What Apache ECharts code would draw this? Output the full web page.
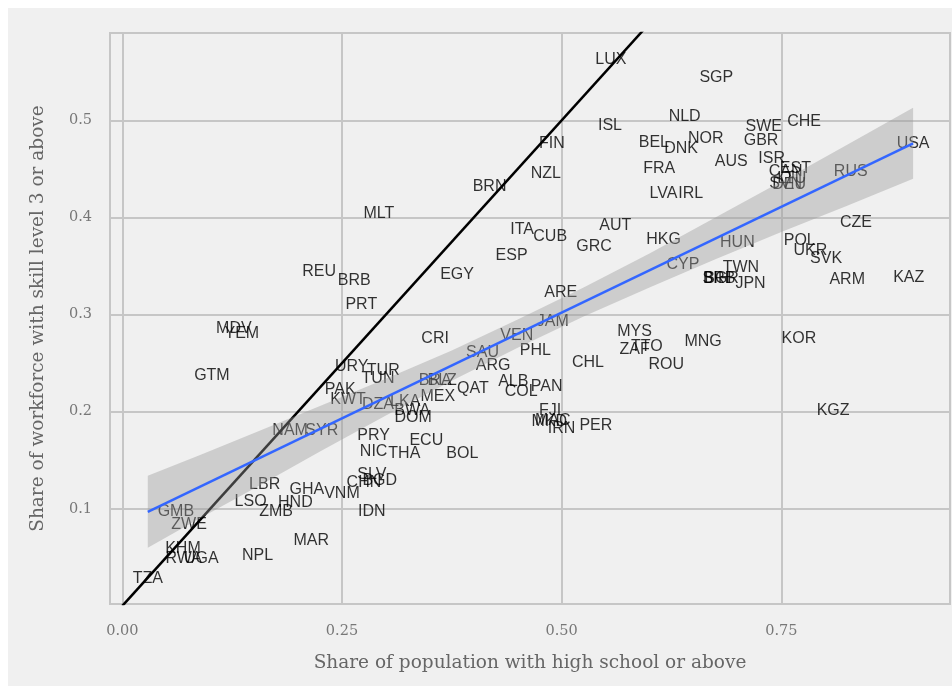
<!DOCTYPE html>
<html>
<head>
<meta charset="utf-8">
<script src="https://cdn.jsdelivr.net/npm/echarts@6/dist/echarts.min.js"></script>
<style>
html,body{margin:0;padding:0;background:#fff;}
#chart{width:952px;height:688px;}
</style>
</head>
<body>
<div id="chart"></div>
<script>
// ---- data ----
const codes = ["LUX","SGP","NLD","ISL","SWE","CHE","BEL","NOR","GBR","DNK","FIN","ISR","AUS","FRA","CAN","EST","NZL","RUS","USA","LTU","SVN","DEU","BRN","LVA","IRL","MLT","CZE","AUT","ITA","CUB","HKG","HUN","POL","GRC","UKR","SVK","ESP","CYP","TWN","REU","BRB","EGY","BIH","BGR","SRB","JPN","ARM","KAZ","ARE","PRT","JAM","MDV","YEM","MYS","CRI","VEN","KOR","MNG","ZAF","TTO","PHL","SAU","CHL","ROU","ARG","URY","TUR","GTM","TUN","BRA","BLZ","ALB","PAN","QAT","PAK","COL","MEX","KWT","DZA","LKA","KGZ","FJI","BWA","MAC","MKD","DOM","IRN","PER","NAM","SYR","PRY","ECU","NIC","THA","BOL","SLV","CHN","BGD","LBR","GHA","VNM","LSO","HND","GMB","ZMB","IDN","ZWE","MAR","KHM","RWA","UGA","NPL","TZA"];
const highSchoolShare = [0.556,0.676,0.640,0.555,0.730,0.776,0.605,0.664,0.727,0.636,0.489,0.739,0.693,0.611,0.755,0.766,0.482,0.829,0.900,0.762,0.755,0.759,0.418,0.616,0.647,0.292,0.835,0.561,0.455,0.487,0.616,0.700,0.771,0.537,0.783,0.801,0.443,0.638,0.704,0.224,0.264,0.381,0.676,0.682,0.679,0.715,0.825,0.895,0.499,0.272,0.490,0.127,0.136,0.583,0.356,0.449,0.770,0.661,0.583,0.597,0.470,0.410,0.530,0.619,0.422,0.261,0.297,0.102,0.291,0.356,0.364,0.445,0.483,0.399,0.248,0.454,0.359,0.257,0.291,0.322,0.809,0.487,0.330,0.490,0.486,0.331,0.500,0.539,0.191,0.227,0.286,0.346,0.286,0.321,0.387,0.284,0.275,0.293,0.162,0.210,0.250,0.146,0.197,0.061,0.175,0.284,0.076,0.215,0.069,0.070,0.090,0.154,0.029];
const skillShare = [0.563,0.544,0.504,0.495,0.494,0.499,0.477,0.481,0.479,0.471,0.476,0.461,0.458,0.450,0.447,0.450,0.445,0.447,0.476,0.440,0.435,0.434,0.432,0.425,0.425,0.404,0.395,0.392,0.388,0.380,0.377,0.374,0.376,0.370,0.366,0.358,0.361,0.351,0.348,0.344,0.335,0.341,0.337,0.337,0.337,0.332,0.336,0.338,0.323,0.310,0.293,0.286,0.280,0.283,0.275,0.278,0.275,0.272,0.264,0.267,0.263,0.261,0.251,0.249,0.248,0.246,0.242,0.237,0.234,0.232,0.232,0.231,0.226,0.224,0.223,0.221,0.216,0.212,0.207,0.210,0.201,0.201,0.201,0.191,0.190,0.194,0.183,0.186,0.181,0.181,0.175,0.170,0.159,0.157,0.157,0.135,0.127,0.129,0.125,0.120,0.116,0.107,0.106,0.097,0.097,0.097,0.084,0.067,0.059,0.049,0.049,0.052,0.028];

// linear fit and its confidence band
const fitX = [0.029, 0.900];
const fitY = [0.0969, 0.4763];
const bandX    = [0.029, 0.090, 0.150, 0.225, 0.300, 0.375, 0.450, 0.525, 0.600, 0.675, 0.750, 0.825, 0.900];
const bandLow  = [0.060, 0.091, 0.121, 0.159, 0.196, 0.232, 0.266, 0.298, 0.328, 0.357, 0.385, 0.412, 0.440];
const bandHigh = [0.134, 0.156, 0.178, 0.206, 0.234, 0.263, 0.295, 0.328, 0.363, 0.400, 0.437, 0.475, 0.513];

// identity line y = x
const identityX = [0, 0.6];

const xTicks = [0, 0.25, 0.5, 0.75];
const yTicks = [0.1, 0.2, 0.3, 0.4, 0.5];

const serif = "'DejaVu Serif', 'Liberation Serif', serif";
const sans = "'Liberation Sans', Arial, sans-serif";
const gridColor = '#c6c6c6';

const chart = echarts.init(document.getElementById('chart'), null, {renderer: 'canvas'});

chart.setOption({
  animation: false,
  backgroundColor: '#ffffff',
  graphic: [{
    type: 'rect', z: -10, silent: true,
    shape: {x: 8, y: 8, width: 944, height: 678},
    style: {fill: '#f0f0f0'}
  }],
  grid: {
    left: 110, right: 2, top: 33, bottom: 84,
    show: true, borderColor: gridColor, borderWidth: 2, backgroundColor: 'transparent'
  },
  xAxis: {
    type: 'value', min: -0.014, max: 0.942,
    name: 'Share of population with high school or above',
    nameLocation: 'middle', nameGap: 50,
    nameTextStyle: {fontFamily: serif, fontSize: 18.5, color: '#666'},
    axisLine: {show: false},
    axisTick: {show: false, customValues: xTicks},
    axisLabel: {customValues: xTicks, formatter: v => Number(v).toFixed(2),
      fontFamily: serif, fontSize: 14.5, color: '#777', margin: 20},
    splitLine: {show: true, lineStyle: {color: gridColor, width: 2}}
  },
  yAxis: {
    type: 'value', min: 0.002, max: 0.59,
    name: 'Share of workforce with skill level 3 or above',
    nameLocation: 'middle', nameGap: 62,
    nameTextStyle: {fontFamily: serif, fontSize: 18.5, color: '#666'},
    axisLine: {show: false},
    axisTick: {show: false, customValues: yTicks},
    axisLabel: {customValues: yTicks, formatter: v => Number(v).toFixed(1),
      fontFamily: serif, fontSize: 14.5, color: '#777', margin: 18},
    splitLine: {show: true, lineStyle: {color: gridColor, width: 2}}
  },
  series: [
    {
      type: 'line', z: 2, silent: true, symbol: 'none',
      data: identityX.map(v => [v, v]),
      lineStyle: {color: '#000', width: 2.5}
    },
    {
      type: 'scatter', z: 3, silent: true, symbolSize: 1,
      itemStyle: {color: 'rgba(0,0,0,0)'},
      data: codes.map((c, i) => [highSchoolShare[i], skillShare[i], c]),
      label: {show: true, position: 'inside', formatter: p => p.value[2],
        fontFamily: sans, fontSize: 16, color: '#000'}
    },
    {
      type: 'custom', z: 5, silent: true,
      data: [[bandX[0], bandLow[0]]],
      renderItem: function (params, api) {
        const pts = [];
        for (let i = 0; i < bandX.length; i++) pts.push(api.coord([bandX[i], bandHigh[i]]));
        for (let i = bandX.length - 1; i >= 0; i--) pts.push(api.coord([bandX[i], bandLow[i]]));
        return {type: 'polygon', shape: {points: pts}, style: {fill: 'rgba(153,153,153,0.4)'}};
      }
    },
    {
      type: 'line', z: 6, silent: true, symbol: 'none',
      data: fitX.map((x, i) => [x, fitY[i]]),
      lineStyle: {color: '#3366FF', width: 2.5}
    }
  ]
});
</script>
</body>
</html>
